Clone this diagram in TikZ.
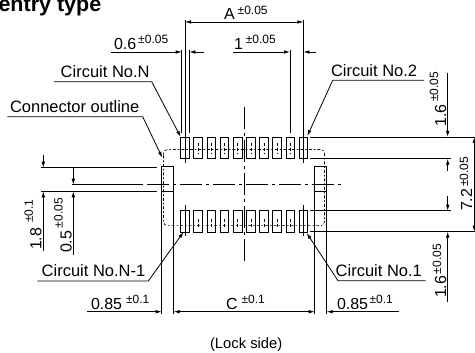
\documentclass[tikz,border=0pt]{standalone}
\usepackage{fontspec}
\setmainfont{Liberation Sans}
\usetikzlibrary{arrows.meta,calc,positioning}

\newcommand{\dimtext}[4][2pt]{#3\kern#1\raisebox{#2}{\fontsize{12}{12}\selectfont ±#4}}

\tikzset{
  every node/.style={inner sep=0pt,outer sep=0pt,font=\fontsize{16.5}{18}\selectfont},
  slotbox/.style={draw,line width=.8pt,minimum width=8.6pt,minimum height=21.7pt},
  sidebox/.style={draw,line width=.9pt,minimum width=12pt,minimum height=24.7pt},
  thin line/.style={line width=.8pt},
  center line/.style={line width=.7pt,dash pattern=on 22pt off 4pt on 3pt off 4pt},
  outline line/.style={line width=.6pt,dash pattern=on 1.5pt off 2pt on 3pt off 2pt},
  dim both/.style={line width=.8pt,{Latex[length=6pt,width=3.6pt]}-{Latex[length=6pt,width=3.6pt]}},
  dim end/.style={line width=.8pt,-{Latex[length=6pt,width=3.6pt]}},
  label/.style={anchor=base west},
  dimlabel/.style={anchor=base west,font=\fontsize{16}{18}\selectfont},
  updim/.style={anchor=base west,rotate=90,font=\fontsize{16}{18}\selectfont}
}

\begin{document}
\begin{tikzpicture}[x=1pt,y=-1pt]
  \useasboundingbox (0,0) rectangle (475,353);

  \node (title) [label,font=\fontsize{21.5}{22}\bfseries\selectfont] at (-1.5,11.5) {entry type};

  % connector slots
  \foreach \i in {1,...,10} {
    \node (T\i) [slotbox] at ({185+13.17*(\i-1)},147.8) {};
    \node (B\i) [slotbox] at ({185+13.17*(\i-1)},221.2) {};
    \draw[line width=.5pt,densely dashed] ($(T\i.center)+(0,-5)$) -- ($(T\i.center)+(0,6)$);
    \draw[line width=.5pt,densely dashed] ($(B\i.center)+(0,-2)$) -- ($(B\i.center)+(0,6)$);
  }
  \node (SL) [sidebox] at (167.7,179.3) {};
  \node (SR) [sidebox] at (320.7,179.3) {};

  % outline and center lines
  \draw[outline line,rounded corners=4pt] (163.5,157) -- (163.5,149.5) -- (324.5,149.5) -- (324.5,225.7) -- (163.5,225.7) -- cycle;
  \draw[center line] (244,107) -- (244,262);
  \draw[thin line] (72,184.7) -- (143,184.7);
  \draw[center line] (147,184.7) -- (342,184.7);
  \draw[thin line] (T1.center |- 0,133) -- (T1.center |- 0,163);
  \draw[thin line] (T10.center |- 0,133) -- (T10.center |- 0,163);
  \draw[thin line] (B1.center |- 0,205) -- (B1.center |- 0,236);
  \draw[thin line] (B10.center |- 0,205) -- (B10.center |- 0,236);

  % top dimensions
  \draw[thin line] (185,20) -- (185,133) (303.4,20) -- (303.4,133);
  \draw[thin line] (181.7,50) -- (181.7,133) (189.3,50) -- (189.3,133) (290,50) -- (290,133);
  \draw[dim both] (185,22) -- (303.4,22);
  \draw[dim end] (111,52) -- (181.7,52);
  \draw[dim end] (204,52) -- (189.3,52);
  \draw[dim end] (233,52) -- (290,52);
  \draw[dim end] (316,52) -- (303.4,52);
  \node (dimA) [dimlabel] at (224,19.5) {\dimtext[3pt]{4.5pt}{A}{0.05}};
  \node (dimP) [dimlabel] at (114,50) {\dimtext{6pt}{0.6}{0.05}};
  \node (dimO) [dimlabel] at (234,50) {\dimtext[3pt]{6pt}{1}{0.05}};

  % left dimensions
  \draw[thin line] (41,167.7) -- (157,167.7) (41,191.3) -- (157,191.3);
  \draw[dim end] (43.3,155) -- (43.3,167.7);
  \draw[dim end] (43.3,251) -- (43.3,191.3);
  \draw[dim end] (73.3,168) -- (73.3,184.7);
  \draw[dim end] (73.3,255) -- (73.3,191.3);
  \node (dimE) [updim] at (41.5,250) {\dimtext[5pt]{8.5pt}{1.8}{0.1}};
  \node (dimH) [updim] at (71.5,253) {\dimtext[2.5pt]{9pt}{0.5}{0.05}};

  % bottom dimensions
  \draw[thin line] (SL.south west) -- (161.7,314) (SL.south east) -- (173.7,314);
  \draw[thin line] (SR.south west) -- (314.7,314) (SR.south east) -- (326.7,314);
  \draw[dim end] (87,311.7) -- (161.7,311.7);
  \draw[dim both] (173.7,311.7) -- (314.7,311.7);
  \draw[dim end] (399,311.7) -- (326.7,311.7);
  \node (dimL) [dimlabel] at (91,309.5) {\dimtext[4pt]{6pt}{0.85}{0.1}};
  \node (dimC) [dimlabel] at (226,309.5) {\dimtext[4pt]{6pt}{C}{0.1}};
  \node (dimR) [dimlabel] at (337,309.5) {\dimtext[1.5pt]{6pt}{0.85}{0.1}};

  % right dimensions
  \draw[thin line] (310,137) -- (476,137) (310,158.7) -- (450.7,158.7);
  \draw[thin line] (310,210.7) -- (450.7,210.7) (310,231.7) -- (476,231.7);
  \draw[dim end] (447.7,72.7) -- (447.7,137);
  \draw[dim end] (447.7,171) -- (447.7,158.7);
  \draw[dim end] (447.7,196) -- (447.7,210.7);
  \draw[dim end] (447.7,302) -- (447.7,231.7);
  \draw[dim both] (474.3,137) -- (474.3,231.7);
  \node (dimT) [updim] at (446,126.5) {\dimtext[2.5pt]{8pt}{1.6}{0.05}};
  \node (dimB) [updim] at (446,298) {\dimtext[1.5pt]{5pt}{1.6}{0.05}};
  \node (dimW) [updim] at (472,211) {\dimtext[2pt]{4pt}{7.2}{0.05}};

  % leaders
  \node (cN) [label] at (60.7,78) {Circuit No.N};
  \node (cO) [label] at (10,113) {Connector outline};
  \node (c2) [label] at (331,77) {Circuit No.2};
  \node (c1) [label] at (335.7,276.7) {Circuit No.1};
  \node (cM) [label] at (41.7,276.7) {Circuit No.N-1};
  \draw[dim end] (54,81.7) -- (151.7,81.7) -- (T1.north west);
  \draw[dim end] (7.3,116.7) -- (142.7,116.7) -- (162.3,157.7);
  \draw[dim end] (424,80.3) -- (332.7,80.3) -- (307.3,136);
  \draw[dim end] (425.7,280.7) -- (338,280.7) -- (306.7,233);
  \draw[dim end] (37.3,281) -- (148.3,281) -- (183.5,232);

  \node (side) [label,font=\fontsize{14.8}{16}\selectfont] at (210,348.5) {(Lock side)};
\end{tikzpicture}
\end{document}
